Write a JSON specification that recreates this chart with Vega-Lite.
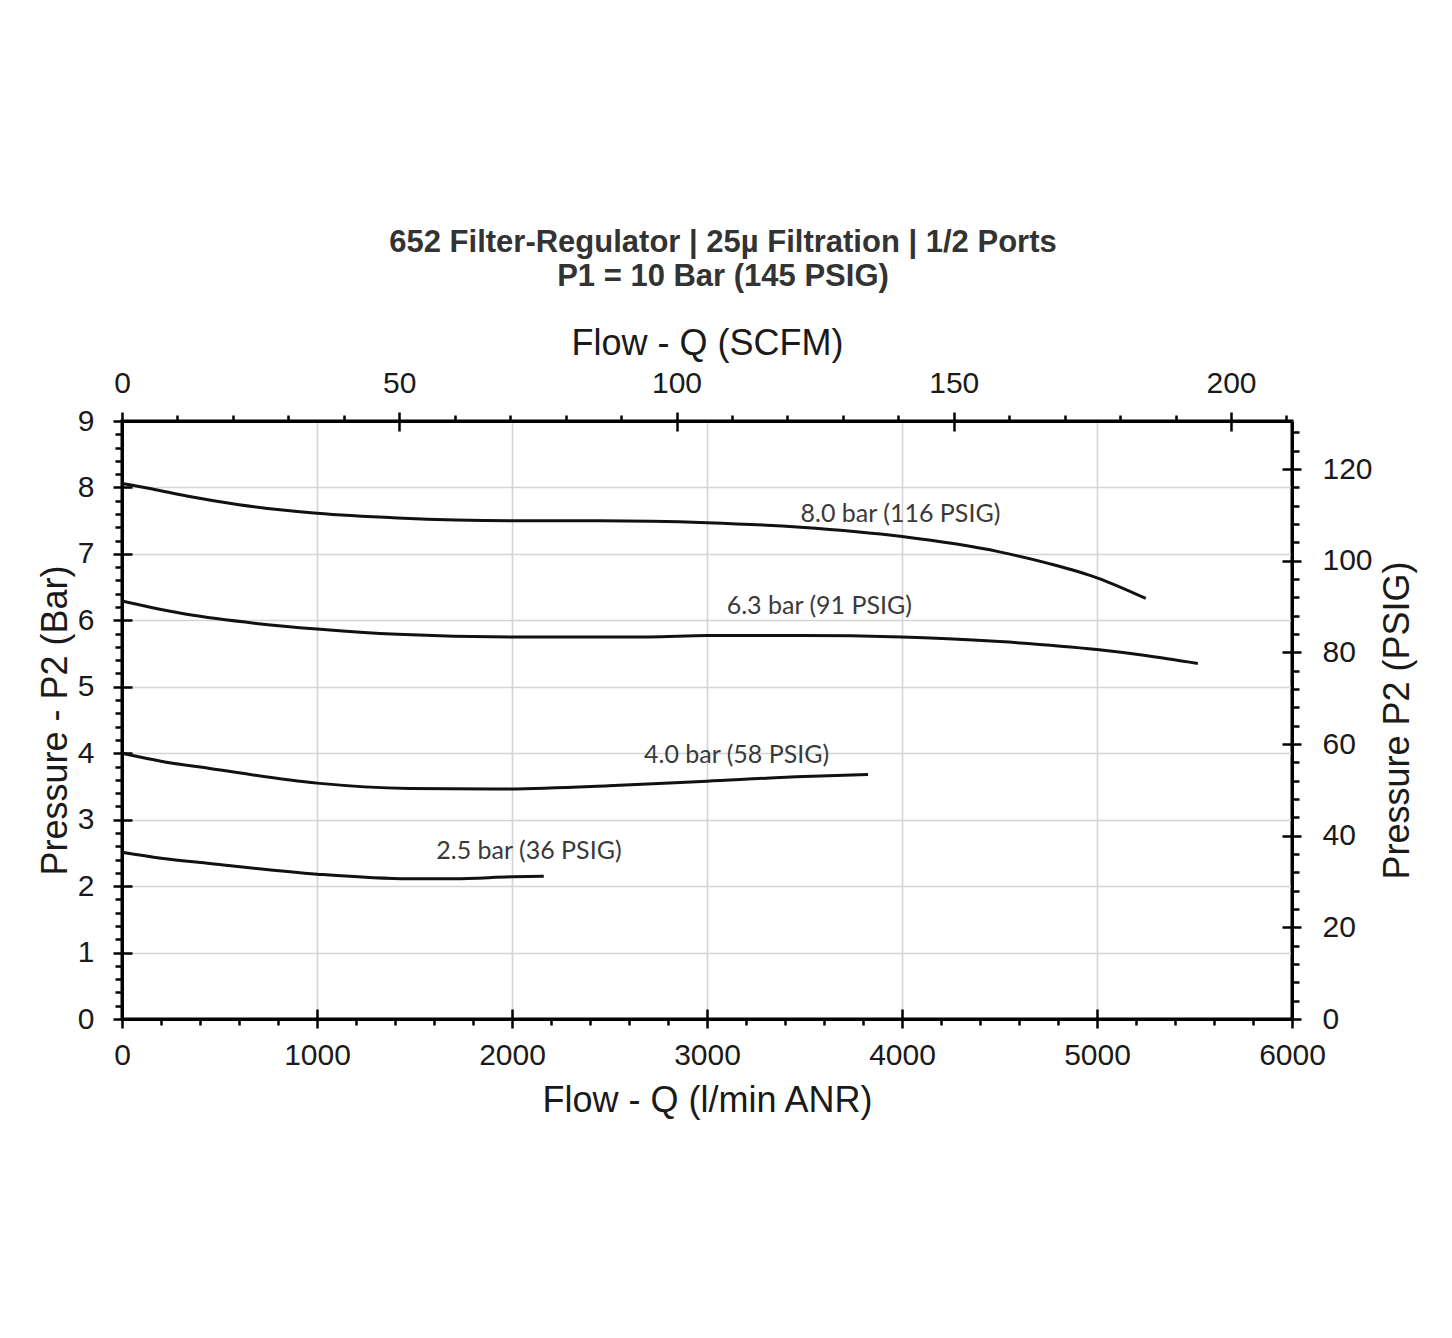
{
  "$schema": "https://vega.github.io/schema/vega-lite/v6.json",
  "width": 1170,
  "height": 598,
  "autosize": {"type": "none"},
  "padding": {"left": 122, "top": 421, "right": 160, "bottom": 319},
  "background": "white",
  "config": {
    "view": {"stroke": "black", "strokeWidth": 3},
    "font": "Liberation Sans",
    "axis": {"labelFont": "Liberation Sans", "titleFont": "Liberation Sans", "labelColor": "#1a1a1a", "titleColor": "#1a1a1a", "titleFontWeight": "normal", "labelFontSize": 30, "titleFontSize": 36, "tickColor": "black", "tickWidth": 2.5, "domainColor": "black", "domainWidth": 3, "labelOverlap": false, "labelFlush": false, "tickCount": 1000}
  },
  "title": {
    "text": ["652 Filter-Regulator | 25µ Filtration | 1/2 Ports", "P1 = 10 Bar (145 PSIG)"],
    "font": "Liberation Sans",
    "fontSize": 31,
    "fontWeight": "bold",
    "color": "#333333",
    "anchor": "middle",
    "frame": "group",
    "lineHeight": 34,
    "offset": 32,
    "dx": 16
  },
  "datasets": {
    "curves": [
      {"series": "8.0 bar", "q": 0, "p": 8.06},
      {"series": "8.0 bar", "q": 150, "p": 7.98},
      {"series": "8.0 bar", "q": 332, "p": 7.87},
      {"series": "8.0 bar", "q": 600, "p": 7.74},
      {"series": "8.0 bar", "q": 823, "p": 7.66},
      {"series": "8.0 bar", "q": 1000, "p": 7.61},
      {"series": "8.0 bar", "q": 1414, "p": 7.54},
      {"series": "8.0 bar", "q": 2000, "p": 7.5},
      {"series": "8.0 bar", "q": 2450, "p": 7.5},
      {"series": "8.0 bar", "q": 3000, "p": 7.47},
      {"series": "8.0 bar", "q": 3480, "p": 7.4},
      {"series": "8.0 bar", "q": 4000, "p": 7.26},
      {"series": "8.0 bar", "q": 4500, "p": 7.03},
      {"series": "8.0 bar", "q": 4760, "p": 6.85},
      {"series": "8.0 bar", "q": 5000, "p": 6.64},
      {"series": "8.0 bar", "q": 5250, "p": 6.33},
      {"series": "6.3 bar", "q": 0, "p": 6.29},
      {"series": "6.3 bar", "q": 332, "p": 6.09},
      {"series": "6.3 bar", "q": 700, "p": 5.95},
      {"series": "6.3 bar", "q": 1000, "p": 5.87},
      {"series": "6.3 bar", "q": 1414, "p": 5.79},
      {"series": "6.3 bar", "q": 2000, "p": 5.75},
      {"series": "6.3 bar", "q": 2700, "p": 5.75},
      {"series": "6.3 bar", "q": 3000, "p": 5.77},
      {"series": "6.3 bar", "q": 3480, "p": 5.77},
      {"series": "6.3 bar", "q": 4000, "p": 5.75},
      {"series": "6.3 bar", "q": 4500, "p": 5.68},
      {"series": "6.3 bar", "q": 5000, "p": 5.56},
      {"series": "6.3 bar", "q": 5250, "p": 5.47},
      {"series": "6.3 bar", "q": 5517, "p": 5.35},
      {"series": "4.0 bar", "q": 0, "p": 4.0},
      {"series": "4.0 bar", "q": 200, "p": 3.88},
      {"series": "4.0 bar", "q": 450, "p": 3.77},
      {"series": "4.0 bar", "q": 1000, "p": 3.55},
      {"series": "4.0 bar", "q": 1473, "p": 3.47},
      {"series": "4.0 bar", "q": 1900, "p": 3.46},
      {"series": "4.0 bar", "q": 2496, "p": 3.51},
      {"series": "4.0 bar", "q": 3000, "p": 3.58},
      {"series": "4.0 bar", "q": 3500, "p": 3.65},
      {"series": "4.0 bar", "q": 3826, "p": 3.68},
      {"series": "2.5 bar", "q": 0, "p": 2.51},
      {"series": "2.5 bar", "q": 200, "p": 2.42},
      {"series": "2.5 bar", "q": 450, "p": 2.34},
      {"series": "2.5 bar", "q": 1000, "p": 2.18},
      {"series": "2.5 bar", "q": 1473, "p": 2.11},
      {"series": "2.5 bar", "q": 1700, "p": 2.11},
      {"series": "2.5 bar", "q": 2000, "p": 2.14},
      {"series": "2.5 bar", "q": 2163, "p": 2.15}
    ],
    "labels": [
      {"label": "8.0 bar (116 PSIG)", "q": 3992, "p": 7.6},
      {"label": "6.3 bar (91 PSIG)", "q": 3576, "p": 6.22},
      {"label": "4.0 bar (58 PSIG)", "q": 3152, "p": 3.97},
      {"label": "2.5 bar (36 PSIG)", "q": 2087, "p": 2.53}
    ],
    "ref": [
      {"q": 0, "p": 0, "scfm": 0, "psig": 0}
    ]
  },
  "layer": [
    {
      "encoding": {
        "x": {
          "field": "q", "type": "quantitative",
          "scale": {"domain": [0, 6000], "nice": false, "zero": false},
          "axis": {
            "orient": "bottom",
            "title": "Flow - Q (l/min ANR)",
            "values": [0,200,400,600,800,1000,1200,1400,1600,1800,2000,2200,2400,2600,2800,3000,3200,3400,3600,3800,4000,4200,4400,4600,4800,5000,5200,5400,5600,5800,6000],
            "tickCount": 1000,
            "format": "d",
            "labelExpr": "datum.value % 1000 === 0 ? datum.label : ''",
            "tickSize": {"condition": {"test": "datum.value % 1000 === 0", "value": 9}, "value": 6},
            "gridOpacity": {"condition": {"test": "datum.value % 1000 === 0", "value": 1}, "value": 0},
            "grid": true, "gridColor": "#d4d4d4", "gridWidth": 1.6,
            "labelPadding": 12,
            "titlePadding": 13
          }
        },
        "y": {
          "field": "p", "type": "quantitative",
          "scale": {"domain": [0, 9], "nice": false, "zero": false},
          "axis": {
            "orient": "left",
            "title": "Pressure - P2 (Bar)",
            "values": [0,0.2,0.4,0.6,0.8,1,1.2,1.4,1.6,1.8,2,2.2,2.4,2.6,2.8,3,3.2,3.4,3.6,3.8,4,4.2,4.4,4.6,4.8,5,5.2,5.4,5.6,5.8,6,6.2,6.4,6.6,6.8,7,7.2,7.4,7.6,7.8,8,8.2,8.4,8.6,8.8,9],
            "tickCount": 1000,
            "tickMinStep": 0.01,
            "format": "d",
            "labelExpr": "datum.value % 1 === 0 ? datum.label : ''",
            "tickSize": {"condition": {"test": "datum.value % 1 === 0", "value": 9}, "value": 7},
            "gridOpacity": {"condition": {"test": "datum.value % 1 === 0", "value": 1}, "value": 0},
            "grid": true, "gridColor": "#d4d4d4", "gridWidth": 1.6,
            "labelPadding": 19,
            "titlePadding": 3
          }
        }
      },
      "layer": [
        {
          "data": {"name": "curves"},
          "mark": {"type": "line", "color": "#111111", "strokeWidth": 3, "interpolate": "monotone"},
          "encoding": {"detail": {"field": "series", "type": "nominal"}}
        },
        {
          "data": {"name": "labels"},
          "mark": {"type": "text", "font": "Lato", "fontSize": 25, "color": "#3a3a3a", "align": "center", "baseline": "middle"},
          "encoding": {"text": {"field": "label", "type": "nominal"}}
        }
      ]
    },
    {
      "data": {"name": "ref"},
      "mark": {"type": "point", "opacity": 0},
      "encoding": {
        "x": {
          "field": "scfm", "type": "quantitative",
          "scale": {"domain": [0, 211], "nice": false, "zero": false},
          "axis": {
            "orient": "top",
            "title": "Flow - Q (SCFM)",
            "values": [0,10,20,30,40,50,60,70,80,90,100,110,120,130,140,150,160,170,180,190,200,210],
            "tickCount": 1000,
            "format": "d",
            "labelExpr": "datum.value % 50 === 0 ? datum.label : ''",
            "tickSize": {"condition": {"test": "datum.value % 50 === 0", "value": 9}, "value": 6},
            "grid": false,
            "labelPadding": 14,
            "titlePadding": 6
          }
        },
        "y": {
          "field": "psig", "type": "quantitative",
          "scale": {"domain": [0, 130.5], "nice": false, "zero": false},
          "axis": {
            "orient": "right",
            "title": "Pressure P2 (PSIG)",
            "titleAngle": 270,
            "titleBaseline": "top",
            "values": [0,4,8,12,16,20,24,28,32,36,40,44,48,52,56,60,64,68,72,76,80,84,88,92,96,100,104,108,112,116,120,124,128],
            "tickCount": 1000,
            "format": "d",
            "labelExpr": "datum.value % 20 === 0 ? datum.label : ''",
            "tickSize": {"condition": {"test": "datum.value % 20 === 0", "value": 9}, "value": 7},
            "grid": false,
            "labelPadding": 21,
            "titlePadding": 8
          }
        }
      }
    },
    {
      "data": {"name": "ref"},
      "mark": {"type": "point", "opacity": 0},
      "encoding": {
        "x": {
          "field": "q", "type": "quantitative",
          "scale": {"domain": [0, 6000], "nice": false, "zero": false},
          "axis": {"orient": "bottom", "title": null, "values": [1000,2000,3000,4000,5000], "labels": false, "domain": false, "grid": false, "tickSize": -10}
        },
        "y": {
          "field": "p", "type": "quantitative",
          "scale": {"domain": [0, 9], "nice": false, "zero": false},
          "axis": {"orient": "left", "title": null, "values": [1,2,3,4,5,6,7,8], "labels": false, "domain": false, "grid": false, "tickSize": -10}
        }
      }
    },
    {
      "data": {"name": "ref"},
      "mark": {"type": "point", "opacity": 0},
      "encoding": {
        "x": {
          "field": "scfm", "type": "quantitative",
          "scale": {"domain": [0, 211], "nice": false, "zero": false},
          "axis": {"orient": "top", "title": null, "values": [50,100,150,200], "labels": false, "domain": false, "grid": false, "tickSize": -10}
        },
        "y": {
          "field": "psig", "type": "quantitative",
          "scale": {"domain": [0, 130.5], "nice": false, "zero": false},
          "axis": {"orient": "right", "title": null, "values": [20,40,60,80,100,120], "labels": false, "domain": false, "grid": false, "tickSize": -10}
        }
      }
    }
  ],
  "resolve": {"scale": {"x": "independent", "y": "independent"}}
}
